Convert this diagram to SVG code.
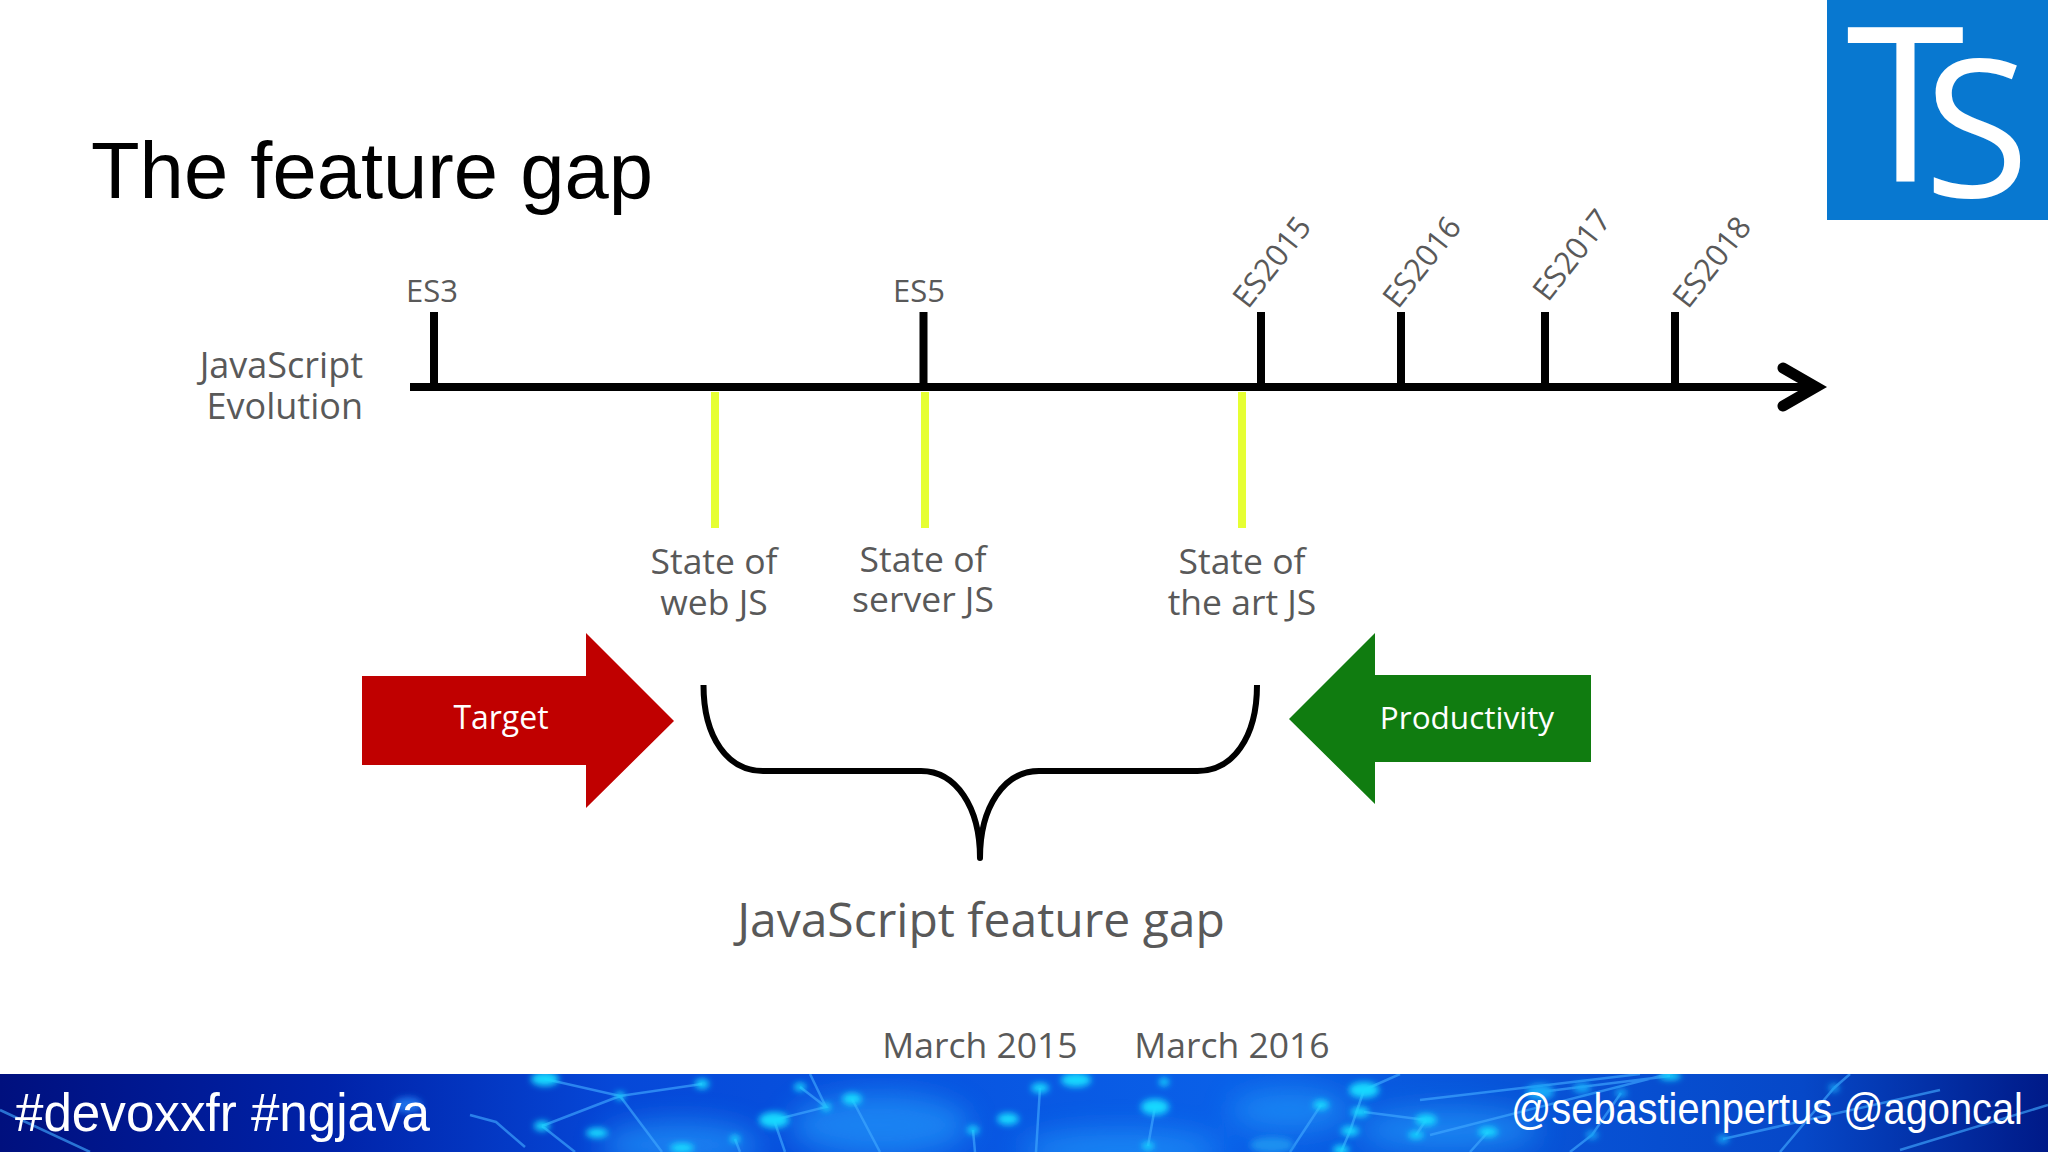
<svg xmlns="http://www.w3.org/2000/svg" width="2048" height="1152" viewBox="0 0 2048 1152">
<style>
.t{font-family:"Open Sans","Noto Sans",sans-serif;fill:#595959;font-size:31px;text-anchor:middle}
.l{font-size:35.500px}
.a{font-family:"Liberation Sans",Arial,sans-serif;fill:#fff}
.ax{stroke:#000;stroke-width:8;fill:none}
.y{stroke:#e6ff33;stroke-width:8;fill:none}
.g{stroke:#3fa8ff;stroke-width:2.5;opacity:.65;fill:none}
.d{fill:#19d8ff}
.e{fill:#18a8f8}
</style>
<defs>
<linearGradient id="band" x1="0" x2="1" y1="0" y2="0">
<stop offset="0" stop-color="#00107e"/><stop offset=".16" stop-color="#0022a8"/><stop offset=".3" stop-color="#0648d8"/><stop offset=".6" stop-color="#0a60e8"/><stop offset=".88" stop-color="#0648c8"/><stop offset="1" stop-color="#001a88"/>
</linearGradient>
<filter id="bl" x="-100%" y="-100%" width="300%" height="300%"><feGaussianBlur stdDeviation="3"/></filter>
<filter id="bl2" x="-50%" y="-100%" width="200%" height="300%"><feGaussianBlur stdDeviation="14"/></filter>
<clipPath id="bc"><rect x="0" y="1074" width="2048" height="78"/></clipPath>
</defs>
<rect width="2048" height="1152" fill="#fff"/>
<g id="footer-band">
<rect x="0" y="1074" width="2048" height="78" fill="url(#band)"/>
<g clip-path="url(#bc)">
<g filter="url(#bl2)" fill="#2496fa" opacity=".7"><ellipse cx="680" cy="1145" rx="80" ry="24"/><ellipse cx="880" cy="1125" rx="90" ry="32"/><ellipse cx="1290" cy="1110" rx="60" ry="20"/><ellipse cx="1120" cy="1150" rx="100" ry="20"/><ellipse cx="1450" cy="1130" rx="90" ry="22"/></g>
<path class="g" d="M545 1079L620 1096L702 1084M620 1096L542 1126M620 1096L662 1152M542 1126L575 1152M470 1115L496 1122L525 1147M774 1120L785 1152M800 1087L826 1107L774 1120M826 1107L810 1074M852 1099L880 1152M735 1139L740 1152M973 1130L975 1152M1040 1088L1036 1152M1155 1107L1148 1146M1364 1090L1350 1131L1341 1152M1364 1090L1400 1074M1321 1105L1290 1152M1364 1112L1426 1120M1426 1120L1416 1135M1488 1132L1470 1152M1621 1093L1592 1135L1570 1152M1834 1088L1850 1074M1834 1088L1780 1152M1540 1092L1670 1076M1430 1135L1723 1060M1723 1139L1940 1090M2048 1105L1900 1150M1420 1100L1640 1074M0 1110L90 1152"/>
<g filter="url(#bl)">
<ellipse class="d" cx="545" cy="1079" rx="14" ry="7"/><ellipse class="d" cx="702" cy="1084" rx="7" ry="5"/><ellipse class="d" cx="620" cy="1096" rx="5" ry="4"/><ellipse class="d" cx="852" cy="1099" rx="10" ry="6"/><ellipse class="d" cx="774" cy="1120" rx="15" ry="8"/><ellipse class="d" cx="542" cy="1126" rx="8" ry="5"/><ellipse class="d" cx="597" cy="1133" rx="11" ry="5"/><ellipse class="d" cx="973" cy="1130" rx="6" ry="4"/><ellipse class="d" cx="1008" cy="1119" rx="11" ry="6"/><ellipse cx="408" cy="1105" rx="14" ry="8" fill="#1a70e8"/><ellipse class="d" cx="735" cy="1139" rx="5" ry="4"/><ellipse class="d" cx="682" cy="1148" rx="12" ry="5"/><ellipse class="d" cx="800" cy="1087" rx="6" ry="4"/><ellipse class="d" cx="826" cy="1107" rx="5" ry="4"/>
<ellipse class="d" cx="1076" cy="1080" rx="15" ry="7"/><ellipse class="d" cx="1040" cy="1088" rx="9" ry="5"/><ellipse class="d" cx="1164" cy="1082" rx="5" ry="4"/><ellipse class="d" cx="1155" cy="1107" rx="14" ry="8"/><ellipse class="d" cx="1364" cy="1090" rx="15" ry="8"/><ellipse class="d" cx="1321" cy="1105" rx="8" ry="5"/><ellipse class="d" cx="1360" cy="1112" rx="9" ry="5"/><ellipse class="d" cx="1426" cy="1120" rx="11" ry="6"/><ellipse class="d" cx="1416" cy="1135" rx="8" ry="4"/><ellipse class="d" cx="1350" cy="1131" rx="9" ry="5"/><ellipse class="d" cx="1488" cy="1132" rx="10" ry="5"/><ellipse class="e" cx="1540" cy="1092" rx="14" ry="8"/><ellipse class="e" cx="1582" cy="1088" rx="9" ry="5"/><ellipse class="d" cx="1670" cy="1076" rx="11" ry="4"/><ellipse class="e" cx="1621" cy="1093" rx="6" ry="4"/><ellipse class="e" cx="1834" cy="1088" rx="5" ry="4"/><ellipse class="e" cx="1723" cy="1139" rx="6" ry="4"/><ellipse class="e" cx="1592" cy="1135" rx="6" ry="4"/><ellipse class="d" cx="1148" cy="1146" rx="6" ry="4"/><ellipse cx="1272" cy="1145" rx="22" ry="8" fill="#1a90f0"/><ellipse class="d" cx="1341" cy="1150" rx="8" ry="5"/>
</g>
</g>
<text class="a" x="15" y="1131" font-size="54" textLength="415" lengthAdjust="spacingAndGlyphs">#devoxxfr #ngjava</text>
<text class="a" transform="translate(1511 1124) scale(.904 1)" font-size="44">@sebastienpertus @agoncal</text>
</g>
<text id="title" x="91" y="198" font-family="Liberation Sans, Arial, sans-serif" font-size="79.600" fill="#000">The feature gap</text>
<g id="ts-logo">
<rect x="1827" y="0" width="221" height="220" fill="#0878d0"/>
<text x="1846" y="182" font-family="Open Sans, sans-serif" font-size="216" fill="#fff">T</text>
<text x="1924" y="197" font-family="Open Sans, sans-serif" font-size="192" fill="#fff">S</text>
</g>
<g id="connectors">
<path class="ax" d="M410 387H1815"/>
<path class="ax" d="M434 312V387M923.500 312V387M1261 312V387M1401 312V387M1545 312V387M1675 312V387"/>
<path d="M1783 368L1816 387L1783 406" fill="none" stroke="#000" stroke-width="11" stroke-linecap="round"/>
<path class="y" d="M715 392V528M925 392V528M1242 392V528"/>
<g id="brace">
<path d="M703.500 685C703.500 738 728 771 763 771H921C956 771 980 807 980 858C980 807 1004 771 1039 771H1197.500C1232.500 771 1257 738 1257 685" fill="none" stroke="#000" stroke-width="6"/>
<circle cx="980" cy="858" r="3" fill="#000"/>
</g>
</g>
<g id="labels-top">
<text class="t" x="432" y="302">ES3</text>
<text class="t" x="919" y="302">ES5</text>
<text class="t" transform="translate(1248 310) rotate(-52)" style="text-anchor:start">ES2015</text>
<text class="t" transform="translate(1398 310) rotate(-52)" style="text-anchor:start">ES2016</text>
<text class="t" transform="translate(1548 303) rotate(-52)" style="text-anchor:start">ES2017</text>
<text class="t" transform="translate(1688 310) rotate(-52)" style="text-anchor:start">ES2018</text>
</g>
<g id="label-evolution">
<text class="t l" x="363" y="378" style="text-anchor:end;font-size:36px">JavaScript</text>
<text class="t l" x="363" y="419" style="text-anchor:end;font-size:36px">Evolution</text>
</g>
<g id="state-web"><text class="t l" x="714" y="574">State of</text><text class="t l" x="714" y="615">web JS</text></g>
<g id="state-server"><text class="t l" x="923" y="572">State of</text><text class="t l" x="923" y="612">server JS</text></g>
<g id="state-art"><text class="t l" x="1242" y="574">State of</text><text class="t l" x="1242" y="615">the art JS</text></g>
<g id="target">
<path d="M362 676H586V633L674 721L586 808V765H362Z" fill="#c00000"/>
<text class="t" x="501" y="729" style="fill:#fff;font-size:32px">Target</text>
</g>
<g id="productivity">
<path d="M1591 675H1375V633L1289 719L1375 804V762H1591Z" fill="#107c10"/>
<text class="t" x="1467" y="729" style="fill:#fff;font-size:31.500px">Productivity</text>
</g>
<text id="gap-label" class="t" x="981" y="937" style="font-size:48px">JavaScript feature gap</text>
<g id="dates">
<text class="t l" x="980" y="1058">March 2015</text>
<text class="t l" x="1232" y="1058">March 2016</text>
</g>
</svg>
